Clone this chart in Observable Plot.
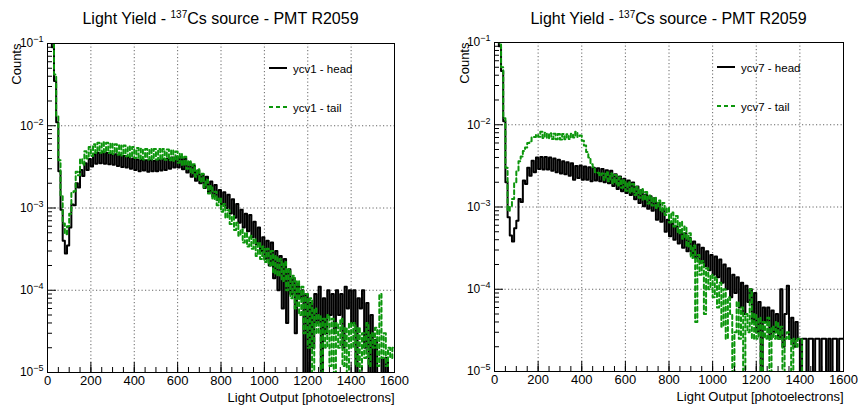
<!DOCTYPE html>
<html>
<head>
<meta charset="utf-8">
<script src="https://cdn.jsdelivr.net/npm/d3@7"></script>
<script src="https://cdn.jsdelivr.net/npm/@observablehq/plot@0.6"></script>
<style>
  html, body { margin: 0; padding: 0; background: #fff; }
  body { width: 858px; height: 406px; position: relative; overflow: hidden;
         font-family: "Liberation Sans", Arial, Helvetica, sans-serif; color: #000; }
  .panel { position: absolute; top: 0; height: 406px; }
  .title { position: absolute; top: 10px; font-size: 16px; line-height: 18px; text-align: center; white-space: nowrap; }
  .title sup { font-size: 10px; vertical-align: 6px; line-height: 0; }
  .plot { position: absolute; left: 0; top: 30px; }
  .legend { position: absolute; left: 0; top: 0; pointer-events: none; }
</style>
</head>
<body>
<div id="p1" class="panel" style="left:0px;width:430px"></div>
<div id="p2" class="panel" style="left:430px;width:428px"></div>
<script>
// ---- Data (histogram bin contents, bin width 10 p.e. starting at 0; values in units of 1e-5 counts) ----
const BIN = 10;
const UNIT = 1e-5;

const ycv1_head = [
 20000,15000,9000,3500,1100,280,95,40,28,35,
 58,110,108,200,178,290,245,350,290,395,
 320,450,345,470,350,480,345,465,340,450,
 335,450,325,440,315,430,310,415,300,400,
 290,390,280,385,285,380,275,380,280,375,
 280,385,285,395,290,400,300,410,310,420,
 310,420,295,400,270,360,240,325,215,285,
 200,255,175,240,155,210,138,190,125,165,
 112,155,100,145,86,128,76,112,66,95,
 58,85,52,82,44,68,36,58,30,44,
 24,40,20,38,14,30,10,26,6,24,
 4,18,9,14,3,12,8,10,0,9,
 0,7,2,9,4,11,0,8,3,10,
 5,9,3,10,5,9,2,11,6,10,
 4,10,0,8,6,10,2,7,0,5,
 0,2.5,0,0,1.5,0,1.5,0,0,0];

const ycv1_tail = [
 22000,16000,10000,4200,1300,380,140,65,48,60,
 85,155,160,275,250,395,335,490,400,550,
 430,595,465,620,470,630,475,620,465,610,
 455,595,445,585,435,575,425,560,415,550,
 405,535,395,525,390,520,390,520,390,520,
 390,520,390,520,385,515,380,505,375,485,
 355,460,330,420,300,375,265,340,240,295,
 210,260,178,220,150,185,128,158,108,132,
 90,112,76,94,64,80,54,66,46,55,
 38,50,34,46,32,42,26,38,24,34,
 22,32,20,30,16,26,15,24,13,22,
 10,18,8,15,6,13,5,11,3,9,
 2,8,0,6,3,5,0,4.5,2,5,
 1.2,4.5,0,4,2,4.5,1.2,3.5,0,4,
 2,4,1.2,3.5,0,3,1.5,4,1.2,3,
 2,3.5,1.2,9,1.5,3,1.2,2,1.5,2];

const ycv7_head = [
 20000,15000,9000,4500,1100,200,75,45,38,55,
 68,125,115,210,190,300,240,365,265,400,
 290,405,285,405,285,400,275,390,265,375,
 255,360,250,350,240,340,215,315,225,320,
 215,310,215,305,205,300,210,295,205,290,
 200,280,195,275,180,250,165,235,155,220,
 148,210,140,198,124,178,112,160,102,142,
 95,135,90,128,70,112,66,94,50,70,
 44,63,40,58,36,52,32,48,29,42,
 26,38,24,35,21,32,19,29,17,26,
 15,25,14,23,12,20,10,18,8,15,
 9,14,6,12,5,11,7,10,4,9,
 3,7,0,6,4,6,2.5,5.5,3,5,
 2.5,10,2,5,11,2.5,4.5,2,4,2.5,
 0,2.5,2.5,0,2.5,2.5,0,2.5,2.5,0,
 2.5,2.5,0,2.5,0,2.5,2.5,0,2.5,2.5];

const ycv7_tail = [
 21000,16000,10000,5000,1200,300,90,100,125,200,
 270,360,410,480,530,600,630,700,710,760,
 715,820,690,800,680,790,670,780,665,770,
 660,770,665,765,670,780,700,820,710,740,
 640,560,465,400,330,305,265,260,240,255,
 215,265,205,255,195,245,182,228,172,212,
 158,200,150,190,140,175,130,165,122,152,
 110,138,104,130,97,120,88,112,80,98,
 65,86,58,78,48,66,41,58,33,48,
 24,34,4,26,15,22,5,18,10,15,
 8,14,6,12,3.5,10,2.5,8,5,0,
 3,7,2.5,6,0,5,3,10,2.5,5,
 2.5,4.5,0,4,2.5,4.5,0,3.5,2.5,4,
 2.5,3.5,0,2.5,3,2.5,0,2.5,2,2.5,
 2.5,0,0,0,0,0,0,0,0,0,
 0,0,0,0,0,0,0,0,0,0];

// ---- Axes / labels ----
const xMajorTicks = [0, 200, 400, 600, 800, 1000, 1200, 1400, 1600];
const xGridTicks = [200, 400, 600, 800, 1000, 1200, 1400];
const yDecades = [1e-5, 1e-4, 1e-3, 1e-2, 1e-1];
const yGridTicks = [1e-4, 1e-3, 1e-2];
const titleMain = "Light Yield - ";
const titleIsotopeMass = "137";
const titleRest = "Cs source - PMT R2059";
const xLabel = "Light Output [photoelectrons]";
const yLabel = "Counts";

const xMinorTicks = d3.range(0, 1601, 50);
const yMinorTicks = [];
for (let e = -5; e <= -2; e++) for (let m = 2; m <= 9; m++) yMinorTicks.push(m * Math.pow(10, e));

const GREEN = "#0c960c";
const FONT = "Liberation Sans, Arial, Helvetica, sans-serif";

function histRows(arr) {
  const rows = arr.map((v, i) => ({x: i * BIN, v: v * UNIT}));
  rows.push({x: arr.length * BIN, v: arr[arr.length - 1] * UNIT});
  return rows;
}

function makePanel(el, cfg) {
  const {width, ml, mr, mt, mb, head, tail, name, counts_dx} = cfg;
  const svgH = 376;
  const t = document.createElement("div");
  t.className = "title";
  t.style.left = ml + "px";
  t.style.width = (width - ml - mr) + "px";
  t.innerHTML = titleMain + "<sup>" + titleIsotopeMass + "</sup>" + titleRest;
  el.appendChild(t);

  const yAcc = d => (d.v > 0 ? d.v : 1e-7);
  const plot = Plot.plot({
    width, height: svgH,
    marginLeft: ml, marginRight: mr, marginTop: mt, marginBottom: mb,
    style: {fontFamily: FONT, color: "#000", background: "transparent", overflow: "visible"},
    x: {domain: [0, 1600]},
    y: {type: "log", domain: [1e-5, 1e-1]},
    marks: [
      Plot.gridX({ticks: xGridTicks, stroke: "#666", strokeOpacity: 1, strokeWidth: 1, strokeDasharray: "1.2,2.3"}),
      Plot.gridY({ticks: yGridTicks, stroke: "#666", strokeOpacity: 1, strokeWidth: 1, strokeDasharray: "1.2,2.3"}),
      Plot.line(histRows(head), {x: "x", y: yAcc, curve: "step-after", stroke: "#000", strokeWidth: 2, clip: true}),
      Plot.line(histRows(tail), {x: "x", y: yAcc, curve: "step-after", stroke: GREEN, strokeWidth: 2, strokeDasharray: "4,3", clip: true}),
      Plot.frame({stroke: "#000", strokeWidth: 1}),
      Plot.axisX({ticks: xMinorTicks, tickSize: -5, tickFormat: () => "", label: null, stroke: "#000"}),
      Plot.axisX({ticks: xMajorTicks, tickSize: -10, tickFormat: () => "", label: null, stroke: "#000"}),
      Plot.axisY({ticks: yMinorTicks, tickSize: -5, tickFormat: () => "", label: null, stroke: "#000"}),
      Plot.axisY({ticks: yDecades, tickSize: -9, tickFormat: () => "", label: null, stroke: "#000"}),
      Plot.axisX({ticks: xMajorTicks, tickSize: 0, tickPadding: 3, label: null, fontSize: 13, tickFormat: d => String(d)}),
      Plot.axisY({ticks: yDecades, tickSize: 0, tickPadding: 4, label: null, fontSize: 12,
                  tickFormat: d => "10^" + Math.round(Math.log10(d))}),
      Plot.text([xLabel], {text: d => d, frameAnchor: "bottom-right", textAnchor: "end", lineAnchor: "middle", dy: 25, fontSize: 13}),
      Plot.text([yLabel], {text: d => d, frameAnchor: "top-left", textAnchor: "end", lineAnchor: "middle", rotate: -90, dx: counts_dx, fontSize: 13})
    ]
  });
  plot.classList.add("plot");
  plot.querySelectorAll("text").forEach(tx => {
    const s = tx.textContent;
    if (/^10\^-?\d+$/.test(s)) {
      const exp = s.split("^")[1].replace("-", "\u2212");
      tx.textContent = "";
      const a = document.createElementNS("http://www.w3.org/2000/svg", "tspan");
      a.textContent = "10";
      const b = document.createElementNS("http://www.w3.org/2000/svg", "tspan");
      b.textContent = exp;
      b.setAttribute("dy", "-0.55em");
      b.setAttribute("font-size", "9");
      tx.appendChild(a); tx.appendChild(b);
    }
  });
  el.appendChild(plot);

  const lx = cfg.legendX, ly1 = cfg.legendY1, ly2 = cfg.legendY2;
  const ns = "http://www.w3.org/2000/svg";
  const lg = document.createElementNS(ns, "svg");
  lg.setAttribute("class", "legend");
  lg.setAttribute("width", width);
  lg.setAttribute("height", 406);
  const items = [
    {label: name + " - head", y: ly1, stroke: "#000", dash: null},
    {label: name + " - tail", y: ly2, stroke: GREEN, dash: "4,3"}
  ];
  for (const it of items) {
    const ln = document.createElementNS(ns, "line");
    ln.setAttribute("x1", lx); ln.setAttribute("x2", lx + 18);
    ln.setAttribute("y1", it.y); ln.setAttribute("y2", it.y);
    ln.setAttribute("stroke", it.stroke); ln.setAttribute("stroke-width", 2);
    if (it.dash) ln.setAttribute("stroke-dasharray", it.dash);
    lg.appendChild(ln);
    const tx = document.createElementNS(ns, "text");
    tx.setAttribute("x", lx + 24); tx.setAttribute("y", it.y + 4.5);
    tx.setAttribute("font-size", "11.5");
    tx.setAttribute("font-family", FONT);
    tx.textContent = it.label;
    lg.appendChild(tx);
  }
  el.appendChild(lg);
}

makePanel(document.getElementById("p1"), {
  width: 430, ml: 47, mr: 36, mt: 13, mb: 34, head: ycv1_head, tail: ycv1_tail, name: "ycv1",
  counts_dx: -31, legendX: 269, legendY1: 68, legendY2: 107
});
makePanel(document.getElementById("p2"), {
  width: 428, ml: 64, mr: 15, mt: 12, mb: 35, head: ycv7_head, tail: ycv7_tail, name: "ycv7",
  counts_dx: -30, legendX: 287, legendY1: 67, legendY2: 106
});
</script>
</body>
</html>
